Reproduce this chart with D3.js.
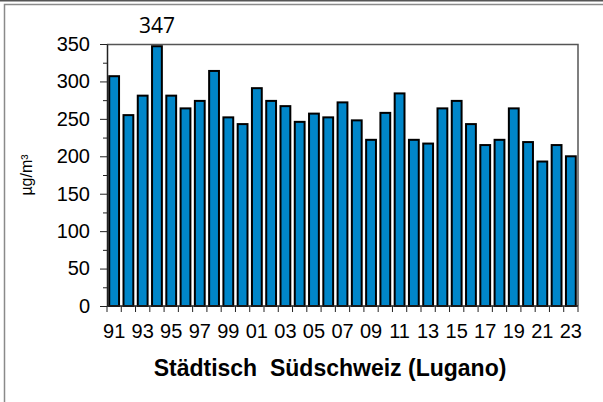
<!DOCTYPE html>
<html>
<head>
<meta charset="utf-8">
<script src="https://cdn.jsdelivr.net/npm/d3@7"></script>
<style>
  body { margin: 0; background: #fff; }
  svg { display: block; }
</style>
</head>
<body>
<div id="chart"></div>
<script>
var svgWidth = 603;
var svgHeight = 402;

// data
var years = ["91", "92", "93", "94", "95", "96", "97", "98", "99", "00", "01",
  "02", "03", "04", "05", "06", "07", "08", "09", "10", "11", "12", "13",
  "14", "15", "16", "17", "18", "19", "20", "21", "22", "23"];
var values = [307, 255, 281, 347, 281, 264, 274, 314, 252, 243, 291,
  274, 267, 246, 257, 252, 272, 248, 222, 258, 284, 222, 217,
  264, 274, 243, 215, 222, 264, 219, 193, 215, 200];
var yTicks = [0, 50, 100, 150, 200, 250, 300, 350];
var xLabels = years.filter((d, i) => i % 2 === 0);
var peakLabel = "347";
var title = "Städtisch  Südschweiz (Lugano)";
var yTitle = "µg/m³";

var margin = { top: 44, right: 25, bottom: 96, left: 107 };
var width = 578 - margin.left;
var height = 306 - margin.top;

var svg = d3.select("#chart")
  .append("svg")
  .attr("width", svgWidth)
  .attr("height", svgHeight);

// outer frame (cropped)
svg.append("line")
  .attr("x1", 0).attr("x2", svgWidth)
  .attr("y1", 0.5).attr("y2", 0.5)
  .attr("stroke", "#555").attr("stroke-width", 2);
svg.append("rect")
  .attr("x", 4.5).attr("y", 4.5)
  .attr("width", 640).attr("height", 440)
  .attr("fill", "none")
  .attr("stroke", "#8a8a8a").attr("stroke-width", 1.5);

var chartGroup = svg.append("g")
  .attr("transform", `translate(${margin.left}, ${margin.top})`);

var x = d3.scaleBand()
  .domain(years)
  .range([0, width])
  .paddingInner(0.2)
  .paddingOuter(0.1);

var y = d3.scaleLinear()
  .domain([0, 350])
  .range([height, 0]);

// plot frame top / right
chartGroup.append("path")
  .attr("d", `M0,0.5H${width}V${height}`)
  .attr("fill", "none")
  .attr("stroke", "#555")
  .attr("stroke-width", 1.5);

// bars
chartGroup.selectAll("rect.bar")
  .data(values)
  .enter()
  .append("rect")
  .attr("class", "bar")
  .attr("x", (d, i) => x(years[i]) + 0.8)
  .attr("y", d => y(d))
  .attr("width", x.bandwidth() - 1.6)
  .attr("height", d => height - y(d))
  .attr("fill", "#0086c9")
  .attr("stroke", "#000")
  .attr("stroke-width", 2);

// y axis with minor ticks
var minor = d3.range(25, 350, 50);
chartGroup.append("g")
  .call(d3.axisLeft(y).tickValues(minor).tickSize(4).tickFormat(""))
  .call(g => g.select(".domain").remove())
  .selectAll("line").attr("stroke", "#222");

var yAxis = chartGroup.append("g")
  .call(d3.axisLeft(y).tickValues(yTicks).tickSize(7).tickSizeOuter(0).tickPadding(10));
yAxis.select(".domain").attr("stroke", "#222").attr("stroke-width", 1.5);
yAxis.selectAll("line").attr("stroke", "#222");
yAxis.selectAll("text")
  .style("font-family", "Liberation Sans, Arial, sans-serif")
  .style("font-size", "20px")
  .attr("fill", "#000");

// x axis: ticks between bars, labels every second year
var step = x.step();
var bounds = d3.range(years.length + 1).map(i => i * step);
var xAxis = chartGroup.append("g")
  .attr("transform", `translate(0, ${height})`);
xAxis.append("line")
  .attr("x1", 0).attr("x2", width)
  .attr("stroke", "#222").attr("stroke-width", 1.5);
xAxis.selectAll("line.tick")
  .data(bounds)
  .enter()
  .append("line")
  .attr("class", "tick")
  .attr("x1", d => d).attr("x2", d => d)
  .attr("y1", 0).attr("y2", 6)
  .attr("stroke", "#222");
xAxis.selectAll("text")
  .data(xLabels)
  .enter()
  .append("text")
  .attr("x", d => x(d) + x.bandwidth() / 2)
  .attr("y", 32)
  .attr("text-anchor", "middle")
  .style("font-family", "Liberation Sans, Arial, sans-serif")
  .style("font-size", "20px")
  .text(d => d);

// peak value label
var peakIdx = values.indexOf(d3.max(values));
chartGroup.append("text")
  .attr("x", x(years[peakIdx]) + x.bandwidth() / 2)
  .attr("y", -11)
  .attr("text-anchor", "middle")
  .style("font-family", "Open Sans, sans-serif")
  .style("font-size", "21px")
  .text(peakLabel);

// y title
chartGroup.append("text")
  .attr("transform", "rotate(-90)")
  .attr("x", -height / 2)
  .attr("y", -75)
  .attr("text-anchor", "middle")
  .style("font-family", "Liberation Sans, Arial, sans-serif")
  .style("font-size", "16px")
  .text(yTitle);

// chart title
svg.append("text")
  .attr("x", 330)
  .attr("y", 376)
  .attr("text-anchor", "middle")
  .style("font-family", "Liberation Sans, Arial, sans-serif")
  .style("font-size", "23px")
  .style("font-weight", "bold")
  .style("white-space", "pre")
  .text(title);
</script>
</body>
</html>
